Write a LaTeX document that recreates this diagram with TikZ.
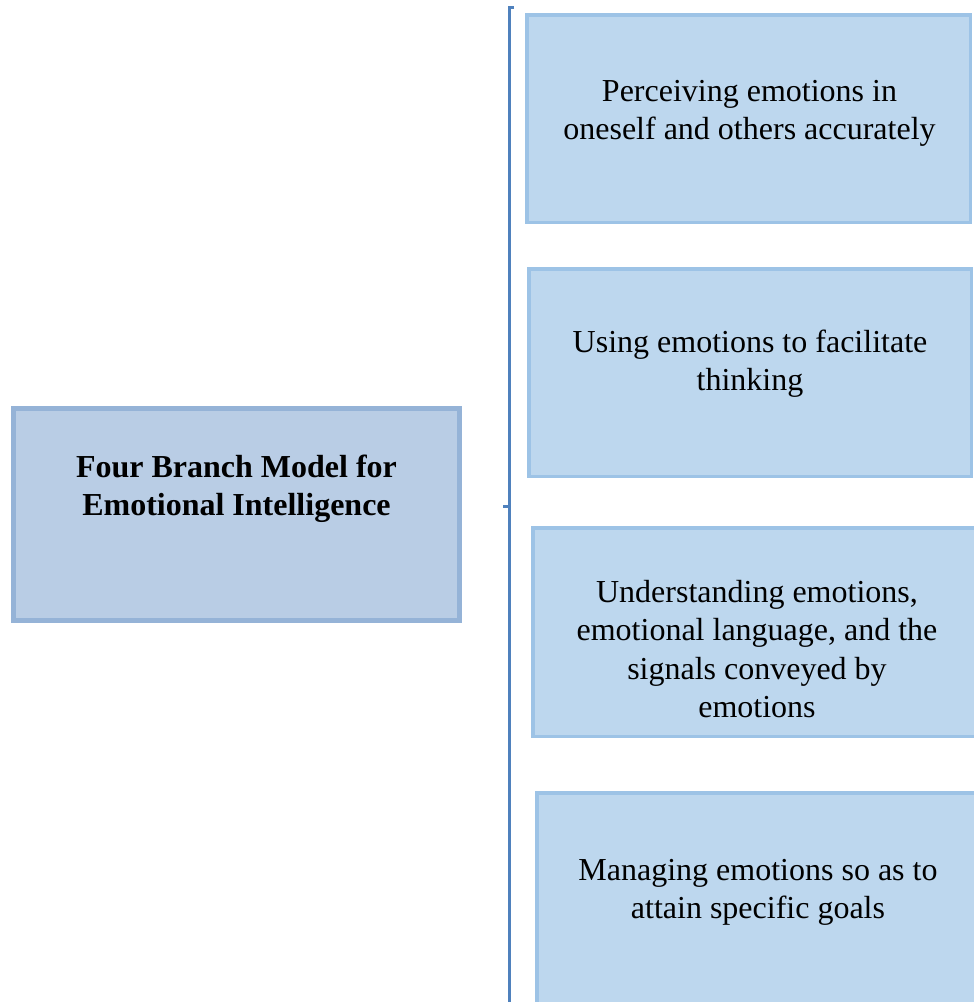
\documentclass[tikz,border=0pt]{standalone}
\usepackage{fontspec}
\setmainfont{Liberation Serif}
\definecolor{mainfill}{HTML}{B9CDE5}
\definecolor{mainline}{HTML}{95B3D7}
\definecolor{subfill}{HTML}{BDD7EE}
\definecolor{subline}{HTML}{9DC3E6}
\definecolor{bracecol}{HTML}{4F81BD}
\begin{document}
\begin{tikzpicture}[x=1pt,y=-1pt,
  mainbox/.style={draw=mainline,fill=mainfill,line width=5pt,rectangle,inner sep=0pt,
    minimum width=446pt,minimum height=212pt},
  subbox/.style={draw=subline,fill=subfill,line width=3.5pt,rectangle,inner sep=0pt,
    minimum height=207.5pt},
  label/.style={align=center,inner sep=0pt,font=\fontsize{32}{38.3}\selectfont},
  bracket/.style={draw=bracecol,line width=3pt}]
\useasboundingbox (0,0) rectangle (974,1002);
\clip (0,0) rectangle (974,1002);
% boxes
\node[mainbox] (main) at (236.5,514.5) {};
\node[subbox,minimum width=443.5pt] (b1) at (748.5,118.5) {};
\node[subbox,minimum width=442.5pt] (b2) at (750,372.5) {};
\node[subbox,minimum width=448.5pt,minimum height=208.5pt] (b3) at (757,632) {};
\node[subbox,minimum width=442.5pt,minimum height=215pt] (b4) at (758,900.5) {};
% texts
\node[label,font=\fontsize{32}{38.3}\selectfont\bfseries] (tmain) at (236.5,489)
  {Four Branch Model for\\Emotional Intelligence};
\node[label] (t1) at (749.5,113.6) {Perceiving emotions in\\oneself and others accurately};
\node[label] (t2) at (750,364) {Using emotions to facilitate\\thinking};
\node[label] (t3) at (757,649) {Understanding emotions,\\emotional language, and the\\signals conveyed by\\emotions};
\node[label] (t4) at (758,892.6) {Managing emotions so as to\\attain specific goals};
% bracket
\coordinate (btop) at (514,7);
\coordinate (bcorner) at (509,7);
\coordinate (bbot) at (509,1010);
\coordinate (bmid) at (509,506);
\coordinate (btip) at (503,506);
\draw[bracket] (btop) -- (bcorner) -- (bbot);
\draw[bracket] (bmid) -- (btip);
\end{tikzpicture}
\end{document}
